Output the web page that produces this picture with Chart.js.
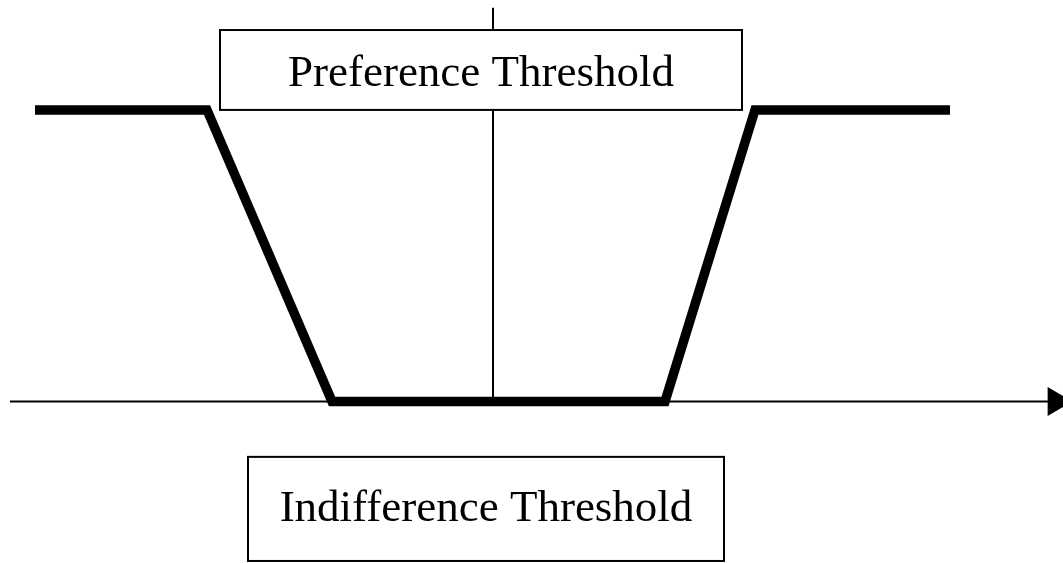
<!DOCTYPE html>
<html>
<head>
<meta charset="utf-8">
<script src="https://cdn.jsdelivr.net/npm/chart.js@4/dist/chart.umd.min.js"></script>
<style>
  html, body { margin: 0; padding: 0; background: #fff; }
  #wrap { width: 1063px; height: 563px; }
</style>
</head>
<body>
<div id="wrap"><canvas id="pref" width="1063" height="563"></canvas></div>
<script>
// preference function: x = difference d (0 at the vertical line), y = P(d)
var fnX = [-4.58, -2.86, -1.61, 1.72, 2.62, 4.57];
var fnY = [1, 1, 0, 0, 1, 1];
var axisX = [-4.83, 5.63];
var axisY = [0, 0];
var vertX = [0, 0];
var vertY = [1.35, 0];

// label boxes [xMin, xMax, yTop, yBottom] and their text
var boxLabels = ['Preference Threshold', 'Indifference Threshold'];
var boxX = [[-2.73, 2.49], [-2.45, 2.31]];
var boxY = [[1.274, 1.0], [-0.19, -0.547]];
var textY = [1.083, -0.41];

function pts(xs, ys) {
  return xs.map(function(x, i) { return {x: x, y: ys[i]}; });
}

var boxPlugin = {
  id: 'boxes',
  afterDatasetsDraw: function(chart) {
    var ctx = chart.ctx, sx = chart.scales.x, sy = chart.scales.y;
    ctx.save();
    boxLabels.forEach(function(label, i) {
      var x0 = sx.getPixelForValue(boxX[i][0]), x1 = sx.getPixelForValue(boxX[i][1]);
      var y0 = sy.getPixelForValue(boxY[i][0]), y1 = sy.getPixelForValue(boxY[i][1]);
      ctx.fillStyle = '#fff';
      ctx.fillRect(x0, y0, x1 - x0, y1 - y0);
      ctx.strokeStyle = '#000';
      ctx.lineWidth = 2;
      ctx.strokeRect(x0, y0, x1 - x0, y1 - y0);
      ctx.fillStyle = '#000';
      ctx.font = '45px "Liberation Serif", "Times New Roman", serif';
      ctx.textAlign = 'center';
      ctx.textBaseline = 'alphabetic';
      ctx.fillText(label, (x0 + x1) / 2, sy.getPixelForValue(textY[i]));
    });
    ctx.restore();
  }
};

new Chart('pref', {
  type: 'scatter',
  data: {
    datasets: [
      {
        data: pts(fnX, fnY),
        showLine: true,
        borderColor: '#000',
        borderWidth: 9.5,
        borderJoinStyle: 'miter',
        borderCapStyle: 'butt',
        pointRadius: 0,
        tension: 0
      },
      {
        data: pts(axisX, axisY),
        showLine: true,
        borderColor: '#000',
        backgroundColor: '#000',
        borderWidth: 2,
        pointStyle: 'triangle',
        rotation: 90,
        pointRadius: [0, 16.7],
        pointBorderWidth: 0
      },
      {
        data: pts(vertX, vertY),
        showLine: true,
        borderColor: '#000',
        borderWidth: 2,
        pointRadius: 0
      }
    ]
  },
  options: {
    responsive: false,
    animation: false,
    events: [],
    layout: { padding: 0, autoPadding: false },
    plugins: { legend: { display: false }, tooltip: { enabled: false } },
    scales: {
      x: { type: 'linear', display: false, min: -4.93, max: 5.70 },
      y: { type: 'linear', display: false, min: -0.554, max: 1.377 }
    }
  },
  plugins: [boxPlugin]
});
</script>
</body>
</html>
